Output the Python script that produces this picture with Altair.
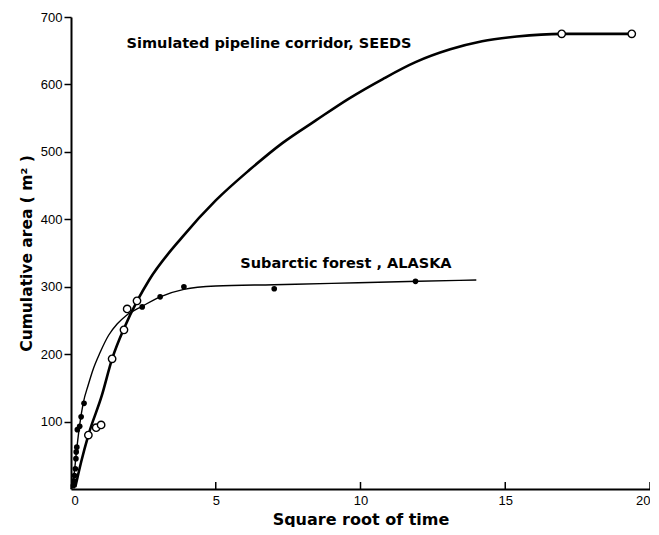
import altair as alt
import pandas as pd

# SEEDS (open circles) observations
seeds_x = [0.6, 0.87, 1.04, 1.42, 1.83, 1.94, 2.28, 16.95, 19.37]
seeds_y = [80, 91, 95, 193, 236, 267, 279, 675, 675]
# SEEDS fitted curve
seeds_cx = [0.15, 0.35, 0.6, 1.06, 1.42, 1.85, 2.3, 2.7, 3.85, 5.0, 6.16, 7.3, 8.47, 9.6,
            10.77, 11.9, 13.1, 14.2, 15.4, 16.95, 19.37]
seeds_cy = [3, 40, 80, 138, 193, 240, 280, 310, 374, 428, 473, 513, 547, 579,
            608, 633, 652, 664, 671, 675, 675]

# Alaska (filled dots) observations
alaska_x = [0.08, 0.1, 0.12, 0.15, 0.17, 0.18, 0.2, 0.22, 0.3, 0.35, 0.45, 2.46, 3.08, 3.9, 7.02, 11.9]
alaska_y = [5, 12, 20, 30, 45, 55, 62, 88, 93, 107, 127, 270, 285, 300, 297, 308]
# Alaska fitted curve
alaska_cx = [0.0, 0.1, 0.2, 0.3, 0.42, 0.6, 0.76, 1.0, 1.3, 1.6, 1.9, 2.46, 3.08, 3.9, 5.0, 7.0, 9.0, 12.0, 14.0]
alaska_cy = [0, 20, 60, 95, 127, 155, 177, 202, 228, 245, 257, 271, 285, 296, 301, 303, 305, 308, 310]

x_ticks = [0, 5, 10, 15, 20]
x_inner_ticks = [5, 10, 15, 20]
y_ticks = [100, 200, 300, 400, 500, 600, 700]

labels_text = ["Simulated pipeline corridor, SEEDS", "Subarctic forest , ALASKA"]
labels_x = [1.92, 5.85]
labels_y = [660, 334]

FONT = "Liberation Sans"
BFONT = "DejaVu Sans"
W, H = 579, 472

xs = alt.Scale(domain=[0, 20], nice=False)
ys = alt.Scale(domain=[0, 700], nice=False)

x_axis = alt.Axis(values=x_ticks, tickSize=0, labelPadding=5, labelFontSize=13,
                  labelFont=FONT, labelColor="black", domainColor="black", domainWidth=2,
                  grid=False, title="Square root of time", titleFont=BFONT, titleFontSize=16,
                  titleFontWeight="bold", titleColor="black", titleBaseline="alphabetic",
                  titleY=35, labelFlush=True)
y_axis = alt.Axis(values=y_ticks, tickSize=7, tickWidth=1.5, tickColor="black", labelPadding=2,
                  labelFontSize=13, labelFont=FONT, labelColor="black", domainColor="black",
                  domainWidth=2, grid=False, title="Cumulative area ( m\u00b2 )", titleFont=BFONT,
                  titleFontSize=15.5, titleFontWeight="bold", titleColor="black", titlePadding=6)

seeds_pts = pd.DataFrame({"x": seeds_x, "y": seeds_y})
seeds_curve = pd.DataFrame({"x": seeds_cx, "y": seeds_cy})
alaska_pts = pd.DataFrame({"x": alaska_x, "y": alaska_y})
alaska_curve = pd.DataFrame({"x": alaska_cx, "y": alaska_cy})
labels = pd.DataFrame({"t": labels_text, "x": labels_x, "y": labels_y})
ticks = pd.DataFrame({"x": x_inner_ticks})

base_x = alt.X("x:Q", scale=xs, axis=x_axis)
base_y = alt.Y("y:Q", scale=ys, axis=y_axis)

alaska_line = alt.Chart(alaska_curve).mark_line(color="black", strokeWidth=1.4, interpolate="monotone").encode(
    x=base_x, y=base_y)
seeds_line = alt.Chart(seeds_curve).mark_line(color="black", strokeWidth=2.6, interpolate="monotone").encode(
    x=alt.X("x:Q", scale=xs), y=alt.Y("y:Q", scale=ys))
alaska_dots = alt.Chart(alaska_pts).mark_point(filled=True, color="black", size=32, opacity=1).encode(
    x=alt.X("x:Q", scale=xs), y=alt.Y("y:Q", scale=ys))
seeds_dots = alt.Chart(seeds_pts).mark_point(filled=True, fill="white", stroke="black", strokeWidth=1.4,
                                             size=55, opacity=1).encode(
    x=alt.X("x:Q", scale=xs), y=alt.Y("y:Q", scale=ys))
text = alt.Chart(labels).mark_text(align="left", baseline="middle", font=BFONT, fontSize=14.5,
                                   fontWeight="bold", color="black").encode(
    x=alt.X("x:Q", scale=xs), y=alt.Y("y:Q", scale=ys), text="t:N")
tick_rules = alt.Chart(ticks).mark_rule(color="black", strokeWidth=1.5).encode(
    x=alt.X("x:Q", scale=xs), y=alt.value(H), y2=alt.value(H - 7))

chart = alt.layer(alaska_line, seeds_line, alaska_dots, seeds_dots, text, tick_rules).properties(
    width=W, height=H,
    autosize=alt.AutoSizeParams(type="none"),
    padding={"left": 63, "top": 9, "right": 0, "bottom": 38},
    background="white",
).configure_view(stroke=None)

chart.save("out.html", embed_options={"renderer": "svg", "actions": False})
